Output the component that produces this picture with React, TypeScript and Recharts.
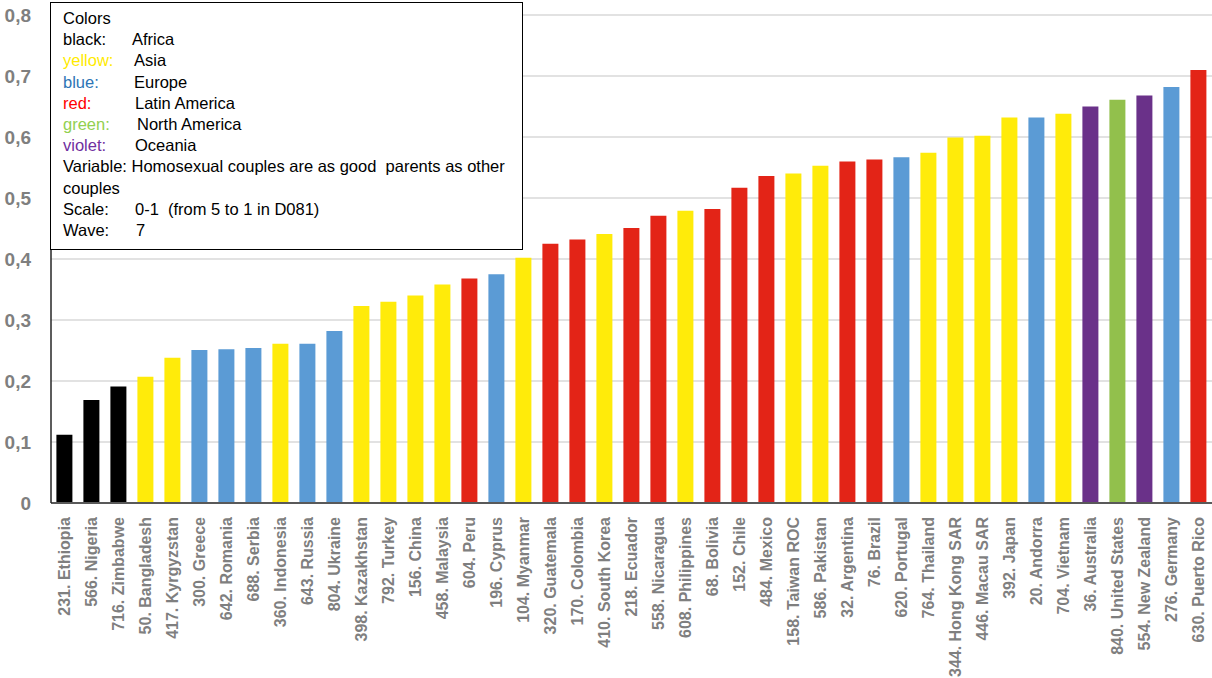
import { BarChart, Bar, Cell, XAxis, YAxis, CartesianGrid } from "recharts";

// ---------------------------------------------------------------------------
// Data (WVS wave 7)
// ---------------------------------------------------------------------------

const countries = [
  "231. Ethiopia", "566. Nigeria", "716. Zimbabwe", "50. Bangladesh", "417. Kyrgyzstan",
  "300. Greece", "642. Romania", "688. Serbia", "360. Indonesia", "643. Russia",
  "804. Ukraine", "398. Kazakhstan", "792. Turkey", "156. China", "458. Malaysia",
  "604. Peru", "196. Cyprus", "104. Myanmar", "320. Guatemala", "170. Colombia",
  "410. South Korea", "218. Ecuador", "558. Nicaragua", "608. Philippines", "68. Bolivia",
  "152. Chile", "484. Mexico", "158. Taiwan ROC", "586. Pakistan", "32. Argentina",
  "76. Brazil", "620. Portugal", "764. Thailand", "344. Hong Kong SAR", "446. Macau SAR",
  "392. Japan", "20. Andorra", "704. Vietnam", "36. Australia", "840. United States",
  "554. New Zealand", "276. Germany", "630. Puerto Rico",
];

const values = [
  0.112, 0.169, 0.191, 0.207, 0.238,
  0.251, 0.252, 0.254, 0.261, 0.261,
  0.282, 0.323, 0.33, 0.34, 0.358,
  0.368, 0.375, 0.402, 0.425, 0.432,
  0.441, 0.451, 0.471, 0.479, 0.482,
  0.517, 0.536, 0.54, 0.553, 0.56,
  0.563, 0.567, 0.574, 0.599, 0.602,
  0.632, 0.632, 0.638, 0.65, 0.661,
  0.668, 0.682, 0.71,
];

// A = Africa, S = Asia, E = Europe, L = Latin America, N = North America, O = Oceania
const regions = [
  "A", "A", "A", "S", "S",
  "E", "E", "E", "S", "E",
  "E", "S", "S", "S", "S",
  "L", "E", "S", "L", "L",
  "S", "L", "L", "S", "L",
  "L", "L", "S", "S", "L",
  "L", "E", "S", "S", "S",
  "S", "E", "S", "O", "N",
  "O", "E", "L",
];

const yTicks = [0, 0.1, 0.2, 0.3, 0.4, 0.5, 0.6, 0.7, 0.8];

const REGION_COLORS: Record<string, string> = {
  A: "#000000",
  S: "#ffeb0a",
  E: "#5b9bd5",
  L: "#e32417",
  N: "#92c04c",
  O: "#6a3189",
};

const legendRows = [
  { key: "Colors", keyColor: "#000000", value: "", x: 0 },
  { key: "black:", keyColor: "#000000", value: "Africa", x: 132 },
  { key: "yellow:", keyColor: "#ffeb00", value: "Asia", x: 134 },
  { key: "blue:", keyColor: "#2e75b6", value: "Europe", x: 134 },
  { key: "red:", keyColor: "#ff0000", value: "Latin America", x: 135 },
  { key: "green:", keyColor: "#92d050", value: "North America", x: 137 },
  { key: "violet:", keyColor: "#7030a0", value: "Oceania", x: 135 },
  { key: "Variable: Homosexual couples are as good\u00a0 parents as other", keyColor: "#000000", value: "", x: 0 },
  { key: "couples", keyColor: "#000000", value: "", x: 0 },
  { key: "Scale:", keyColor: "#000000", value: "0-1\u00a0 (from 5 to 1 in D081)", x: 135 },
  { key: "Wave:", keyColor: "#000000", value: "7", x: 136 },
];

const chartData = countries.map((c, i) => ({ country: c, value: values[i], region: regions[i] }));

const FONT = "'Liberation Sans', Arial, sans-serif";

// ---------------------------------------------------------------------------
// Rotated category label
// ---------------------------------------------------------------------------

function CountryTick({ x, y, payload }: { x?: number; y?: number; payload?: { value: string } }) {
  return (
    <text
      x={0}
      y={0}
      dy="0.36em"
      transform={`translate(${x},${(y ?? 0) + 6}) rotate(-90)`}
      textAnchor="end"
      fill="#7f7f7f"
      fontFamily={FONT}
      fontWeight="bold"
      fontSize={16}
    >
      {payload?.value}
    </text>
  );
}

const formatTick = (v: number) => (v === 0 ? "0" : v.toFixed(1).replace(".", ","));

// ---------------------------------------------------------------------------
// Component
// ---------------------------------------------------------------------------

export default function App() {
  return (
    <div style={{ position: "absolute", left: 0, top: 0, width: 1212, height: 678, background: "#fff" }}>
      <BarChart
        width={1212}
        height={678}
        data={chartData}
        margin={{ top: 15, right: 0, bottom: 0, left: 0 }}
        barCategoryGap="20%"
      >
        <CartesianGrid vertical={false} stroke="#e2e2e2" strokeWidth={2} />
        <XAxis
          dataKey="country"
          interval={0}
          height={175}
          tickLine={false}
          axisLine={{ stroke: "#595959", strokeWidth: 2 }}
          tick={<CountryTick />}
        />
        <YAxis
          width={51}
          domain={[0, 0.8]}
          ticks={yTicks}
          tickFormatter={formatTick}
          tickLine={false}
          tickSize={0}
          tickMargin={20}
          axisLine={{ stroke: "#262626", strokeWidth: 1.5 }}
          tick={{ fill: "#7f7f7f", fontFamily: FONT, fontWeight: "bold", fontSize: 19 }}
        />
        <Bar dataKey="value" isAnimationActive={false}>
          {chartData.map((d, i) => (
            <Cell key={`cell-${i}`} fill={REGION_COLORS[d.region]} />
          ))}
        </Bar>
      </BarChart>

      {/* Legend / notes box */}
      <div
        style={{
          position: "absolute",
          left: 50,
          top: 2,
          width: 471,
          height: 246,
          border: "1.5px solid #000",
          background: "#fff",
          fontFamily: FONT,
          fontSize: 16.5,
          color: "#000",
        }}
      >
        {legendRows.map((r, i) => (
          <div
            key={i}
            style={{ position: "absolute", left: 12, top: 5 + i * 21.2, whiteSpace: "pre", lineHeight: "20px" }}
          >
            <span style={{ color: r.keyColor }}>{r.key}</span>
            {r.value && (
              <span style={{ position: "absolute", left: r.x - 63, top: 0 }}>{r.value}</span>
            )}
          </div>
        ))}
      </div>
    </div>
  );
}
